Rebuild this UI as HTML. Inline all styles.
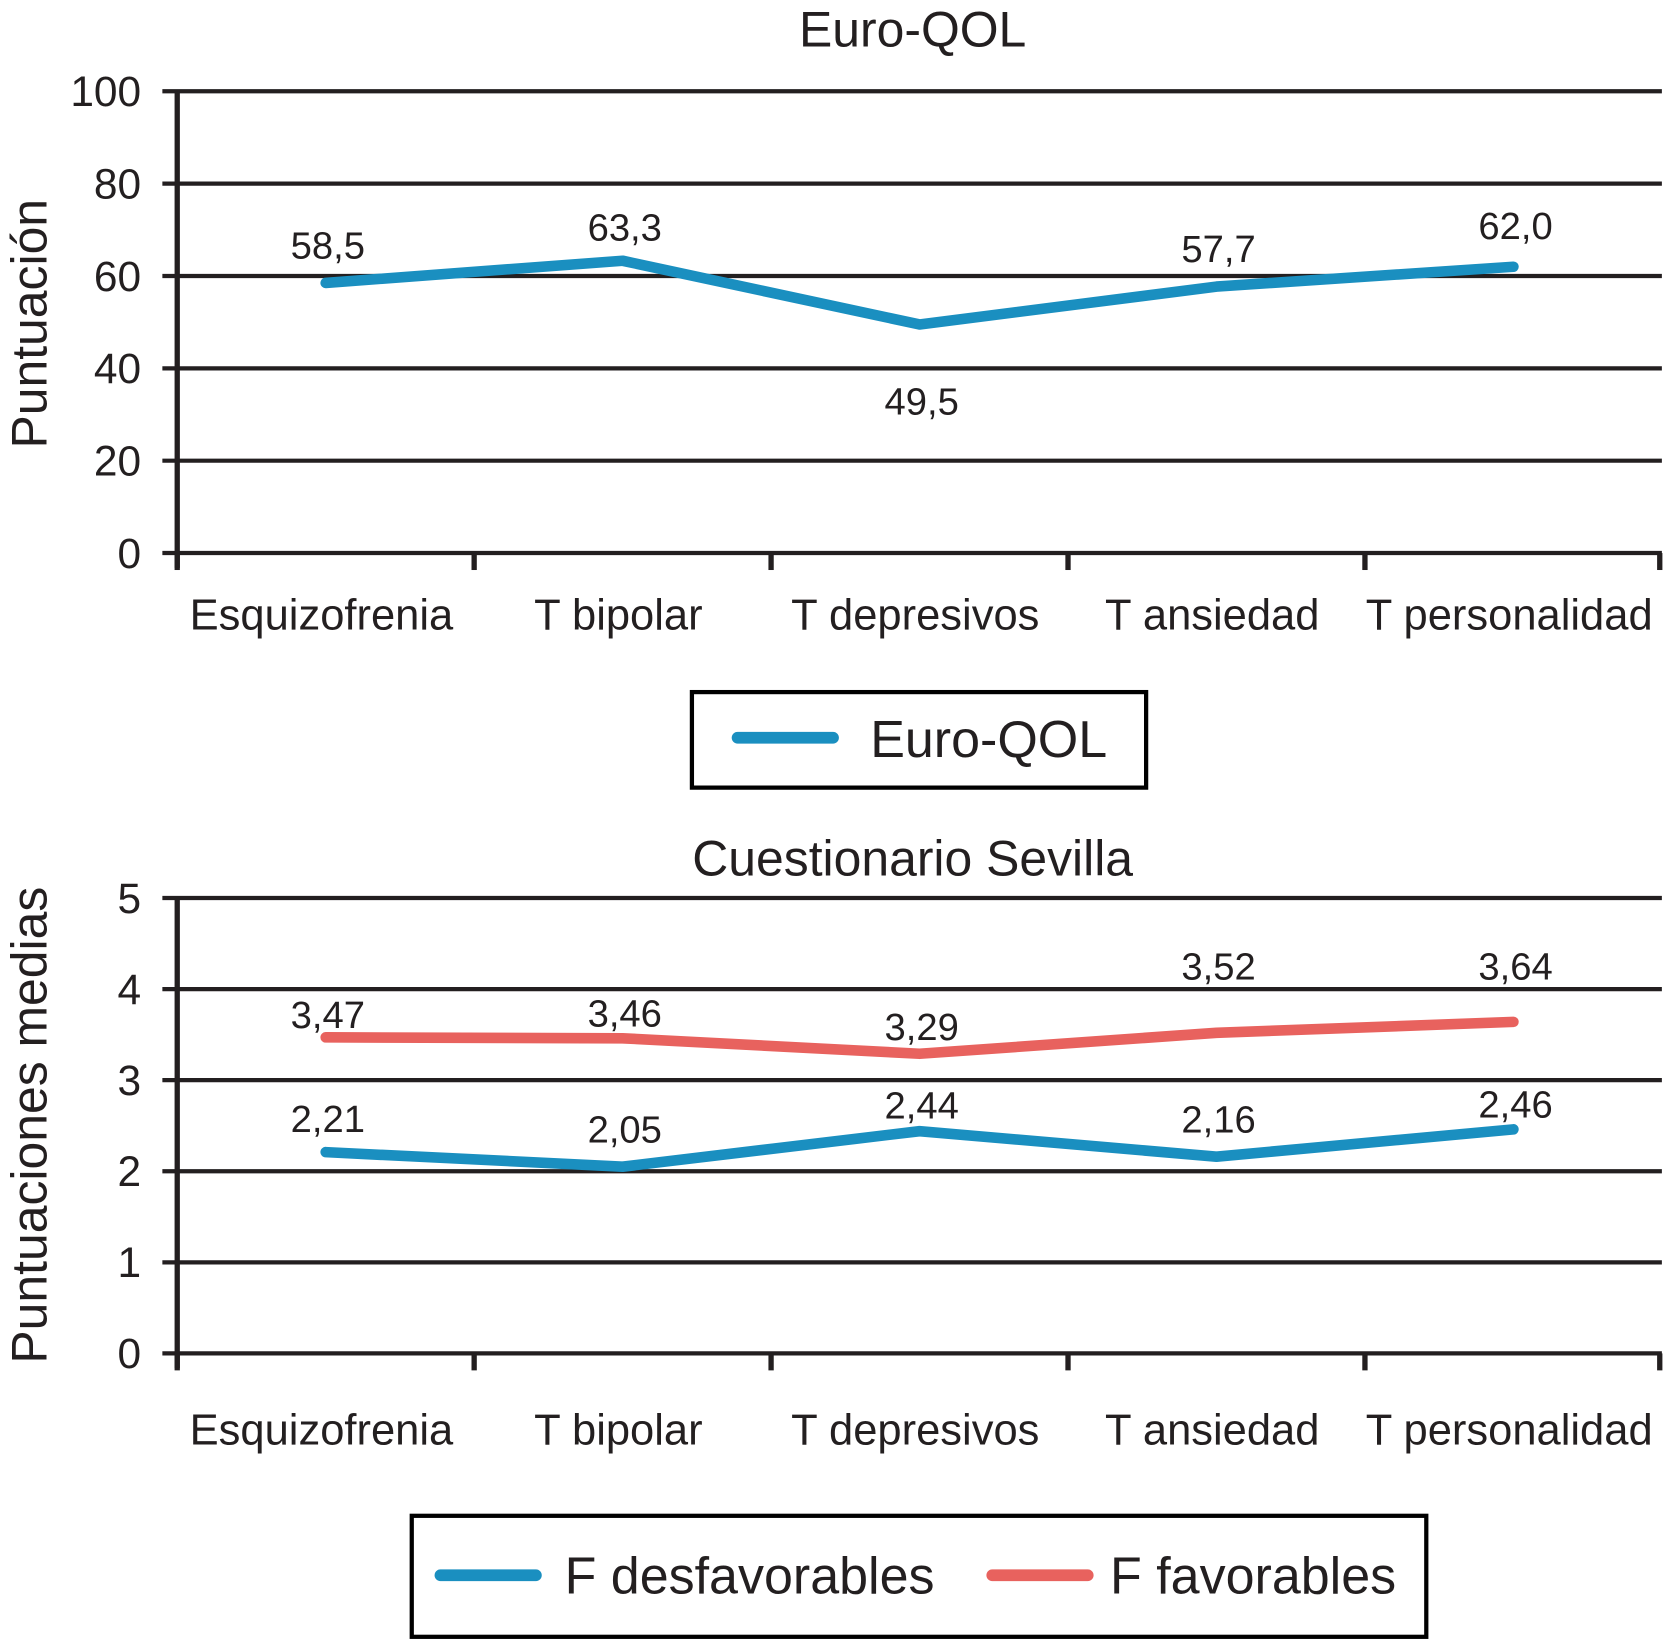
<!DOCTYPE html>
<html><head><meta charset="utf-8"><style>
html,body{margin:0;padding:0;background:#fff;}
svg{display:block;font-family:"Liberation Sans",Arial,sans-serif;}
</style></head><body>
<svg id="c" width="1664" height="1640" viewBox="0 0 1568 1545" preserveAspectRatio="none" xmlns="http://www.w3.org/2000/svg">
<text x="860" y="44" font-size="47" text-anchor="middle" fill="#231f20">Euro-QOL</text>
<text x="860" y="825" font-size="47" text-anchor="middle" fill="#231f20">Cuestionario Sevilla</text>
<text transform="translate(44,305) rotate(-90)" font-size="47" text-anchor="middle" fill="#231f20">Puntuación</text>
<text transform="translate(44,1060) rotate(-90)" font-size="47" text-anchor="middle" fill="#231f20">Puntuaciones medias</text>
<g id="g1"></g>
<g id="g2"></g>
<rect x="652" y="652" width="428" height="90" fill="none" stroke="#000" stroke-width="4"/>
<line x1="695" y1="695" x2="785" y2="695" stroke="#1a8fc0" stroke-width="11" stroke-linecap="round"/>
<text x="820" y="713" font-size="49" fill="#231f20">Euro-QOL</text>
<rect x="388" y="1428" width="956" height="114" fill="none" stroke="#000" stroke-width="4"/>
<line x1="415" y1="1484" x2="505" y2="1484" stroke="#1a8fc0" stroke-width="11" stroke-linecap="round"/>
<text x="532" y="1501" font-size="49" fill="#231f20">F desfavorables</text>
<line x1="935" y1="1484" x2="1025" y2="1484" stroke="#e8625e" stroke-width="11" stroke-linecap="round"/>
<text x="1046" y="1501" font-size="49" fill="#231f20">F favorables</text>
</svg>
<script>
const categories = ["Esquizofrenia","T bipolar","T depresivos","T ansiedad","T personalidad"];
const euroValues = [58.5,63.3,49.5,57.7,62.0];
const euroLabels = ["58,5","63,3","49,5","57,7","62,0"];
const euroTicks = [0,20,40,60,80,100];
const desfValues = [2.21,2.05,2.44,2.16,2.46];
const desfLabels = ["2,21","2,05","2,44","2,16","2,46"];
const favValues = [3.47,3.46,3.29,3.52,3.64];
const favLabels = ["3,47","3,46","3,29","3,52","3,64"];
const sevTicks = [0,1,2,3,4,5];
const euroLabelDy = [-23,-19,85,-23,-26];
const desfLabelDy = [-19,-23,-12,-23,-11];
const favLabelDy = [-9,-11,-13,-50,-40];

const NS="http://www.w3.org/2000/svg";
function mk(p,t,a){const e=document.createElementNS(NS,t);for(const k in a)e.setAttribute(k,a[k]);p.appendChild(e);return e;}
const X0=167,X1=1566,band=(X1-X0)/categories.length;
function xPos(i){return X0+band*(i+0.5);}

function drawChart(g,yTop,yBot,ticks,xlabY,series){
  const max=ticks[ticks.length-1],min=ticks[0];
  const y=v=>yBot-(v-min)/(max-min)*(yBot-yTop);
  ticks.forEach(t=>{
    const l=mk(g,'line',{x1:153,x2:X1,y1:y(t),y2:y(t),stroke:'#231f20','stroke-width':4});
    
    
    const tx=mk(g,'text',{x:133,y:y(t)+14,'font-size':40,'text-anchor':'end',fill:'#231f20'});
    tx.textContent=t;
    
    
  });
  const ax=mk(g,'line',{x1:X0,x2:X0,y1:yTop,y2:yBot+14,stroke:'#231f20','stroke-width':5});
  
  
  for(let i=0;i<=categories.length;i++){
    const xx=Math.min(X0+band*i,X1-2);
    const tk=mk(g,'line',{x1:xx,x2:xx,y1:yBot,y2:yBot+16,stroke:'#231f20','stroke-width':5});
    
    
  }
  categories.forEach((c,i)=>{
    const t=mk(g,'text',{x:xPos(i)-4,y:xlabY,'font-size':41,'text-anchor':'middle',fill:'#231f20'});
    t.textContent=c;
    
    
  });
  series.forEach(s=>{
    const pts=s.values.map((v,i)=>xPos(i)+','+y(v)).join(' ');
    const pl=mk(g,'polyline',{points:pts,fill:'none',stroke:s.color,'stroke-width':10,'stroke-linecap':'round','stroke-linejoin':'round'});
    
    
    s.values.forEach((v,i)=>{
      const t=mk(g,'text',{x:xPos(i)+2,y:y(v)+s.dy[i],'font-size':36,'text-anchor':'middle',fill:'#231f20'});
      t.textContent=s.labels[i];
      
      
    });
  });
}
drawChart(document.getElementById('g1'),86,521,euroTicks,593,[
  {name:'euroqol',values:euroValues,labels:euroLabels,dy:euroLabelDy,color:'#1a8fc0'}]);
drawChart(document.getElementById('g2'),846,1275,sevTicks,1361,[
  {name:'desfavorables',values:desfValues,labels:desfLabels,dy:desfLabelDy,color:'#1a8fc0'},
  {name:'favorables',values:favValues,labels:favLabels,dy:favLabelDy,color:'#e8625e'}]);
</script>
</body></html>
